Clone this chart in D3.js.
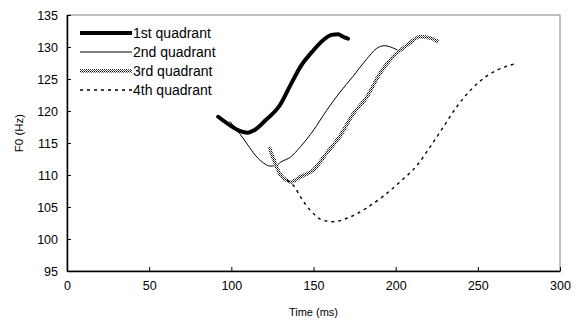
<!DOCTYPE html>
<html>
<head>
<meta charset="utf-8">
<script src="https://cdn.jsdelivr.net/npm/d3@7"></script>
<style>
  body { margin: 0; background: #fff; }
  text { font-family: "Liberation Sans", Arial, sans-serif; fill: #000; }
</style>
</head>
<body>
<div id="chart"></div>
<script>
// F0 contours, one array of [time ms, F0 Hz] per quadrant
var q1 = [[92,119.1],[99,117.8],[105,116.9],[110,116.6],[114,117.0],[121,118.6],[129.5,120.9],[135.5,123.8],
          [142,126.9],[150,129.5],[156,131.1],[161,131.9],[165,132.0],[168,131.6],[171,131.3]];
var q2 = [[99,118.4],[105,116.5],[110,114.7],[114.5,113.1],[119.5,111.9],[123.5,111.4],[127.5,111.5],[130,112.0],
          [136,112.8],[142,114.4],[150,117.0],[158,120.1],[166,122.9],[174,125.4],[182,128.0],[188.5,129.8],
          [193,130.2],[198,129.9],[202.5,129.3]];
var q3 = [[123,114.4],[126,112.3],[129.5,110.2],[133.5,109.2],[136,108.9],[142,109.7],[150,110.8],[158,113.4],
          [166,116.0],[174,119.5],[182.5,122.2],[190.5,125.9],[198.5,128.5],[207,130.3],[215,131.6],[221,131.4],[226,130.8]];
var q4 = [[134,109.2],[138,108.3],[143,106.2],[148,104.5],[156,102.9],[162,102.7],[170,103.2],[182,104.8],
          [192.5,106.7],[202.5,108.9],[213,111.5],[221,114.4],[229,117.5],[237,120.6],[245,123.1],[255,125.4],
          [265.5,126.8],[273,127.4]];
var seriesNames = ["1st quadrant", "2nd quadrant", "3rd quadrant", "4th quadrant"];
var xTicks = [0, 50, 100, 150, 200, 250, 300];
var yTicks = [95, 100, 105, 110, 115, 120, 125, 130, 135];

var W = 582, H = 325;
var margin = {top: 15, right: 22, bottom: 54, left: 67};
var width = W - margin.left - margin.right, height = H - margin.top - margin.bottom;

var svg = d3.select("#chart").append("svg").attr("width", W).attr("height", H);

// checkered fill for the 3rd quadrant line
var pat = svg.append("defs").append("pattern")
    .attr("id", "checker").attr("patternUnits", "userSpaceOnUse")
    .attr("width", 2).attr("height", 2);
pat.append("rect").attr("width", 2).attr("height", 2).attr("fill", "#fff");
pat.append("rect").attr("width", 1).attr("height", 1).attr("fill", "#000");
pat.append("rect").attr("x", 1).attr("y", 1).attr("width", 1).attr("height", 1).attr("fill", "#555");

var g = svg.append("g").attr("transform", "translate(" + margin.left + "," + margin.top + ")");

var x = d3.scaleLinear().domain([0, 300]).range([0, width]);
var y = d3.scaleLinear().domain([95, 135]).range([height, 0]);

// frame
g.append("rect").attr("width", width).attr("height", height)
    .attr("fill", "none").attr("stroke", "#808080").attr("stroke-width", 1);

var xAxis = g.append("g").attr("transform", "translate(0," + height + ")")
    .call(d3.axisBottom(x).tickValues(xTicks).tickSizeInner(-4).tickSizeOuter(0).tickPadding(10));
var yAxis = g.append("g")
    .call(d3.axisLeft(y).tickValues(yTicks).tickSizeInner(-4).tickSizeOuter(0).tickPadding(9));
[xAxis, yAxis].forEach(function (a) {
    a.select(".domain").attr("stroke", "#000").attr("stroke-width", 1.5);
    a.selectAll(".tick line").attr("stroke", "#000");
    a.selectAll("text").style("font-size", "12.5px").attr("fill", "#000");
});

g.append("text")
    .attr("x", width / 2).attr("y", height + 45)
    .attr("text-anchor", "middle").style("font-size", "11px")
    .text("Time (ms)");
g.append("text")
    .attr("transform", "rotate(-90)")
    .attr("x", -height / 2 + 10).attr("y", -44)
    .attr("text-anchor", "middle").style("font-size", "11.5px")
    .text("F0 (Hz)");

var styles = [
    {stroke: "#000", width: 4, dash: null},
    {stroke: "#000", width: 1, dash: null},
    {stroke: "url(#checker)", width: 3.6, dash: null},
    {stroke: "#000", width: 1.4, dash: "3,4"}
];
var all = [q1, q2, q3, q4];

var line = d3.line()
    .x(function (d) { return x(d[0]); })
    .y(function (d) { return y(d[1]); })
    .curve(d3.curveMonotoneX);

all.forEach(function (s, i) {
    g.append("path").datum(s)
        .attr("d", line)
        .attr("fill", "none")
        .attr("stroke", styles[i].stroke)
        .attr("stroke-width", styles[i].width)
        .attr("stroke-dasharray", styles[i].dash)
        .attr("stroke-linecap", i === 0 ? "round" : "butt");
});

// legend
var leg = svg.append("g").attr("transform", "translate(80,33)");
seriesNames.forEach(function (name, i) {
    var row = leg.append("g").attr("transform", "translate(0," + (i * 19) + ")");
    row.append("line").attr("x1", 0).attr("x2", 52).attr("y1", 0).attr("y2", 0)
        .attr("stroke", styles[i].stroke)
        .attr("stroke-width", styles[i].width)
        .attr("stroke-dasharray", styles[i].dash);
    row.append("text").attr("x", 53).attr("y", 5).style("font-size", "14px").text(name);
});
</script>
</body>
</html>
